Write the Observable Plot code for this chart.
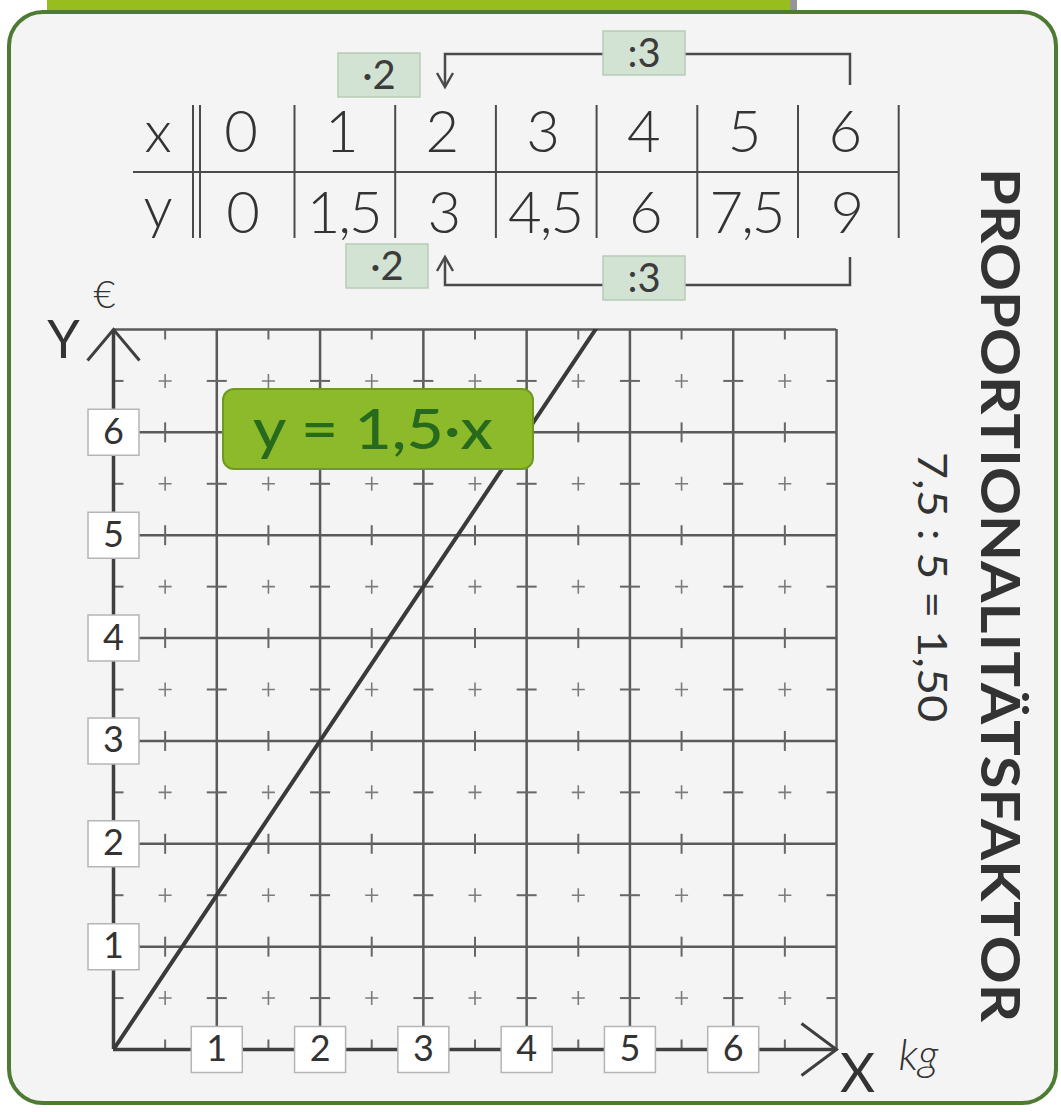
<!DOCTYPE html>
<html>
<head>
<meta charset="utf-8">
<script src="https://cdn.jsdelivr.net/npm/d3@7"></script>
<script src="https://cdn.jsdelivr.net/npm/@observablehq/plot@0.6"></script>
<style>
  body { margin: 0; background: #ffffff; }
  #chart svg { display: block; }
</style>
</head>
<body>
<div id="chart"></div>
<script>
// ---- data ----
const xValues = [0, 1, 2, 3, 4, 5, 6];
const yValues = [0, 1.5, 3, 4.5, 6, 7.5, 9];
const xValueLabels = ["0", "1", "2", "3", "4", "5", "6"];
const yValueLabels = ["0", "1,5", "3", "4,5", "6", "7,5", "9"];
const xTickValues = [1, 2, 3, 4, 5, 6];
const yTickValues = [1, 2, 3, 4, 5, 6];
const gridLines = [1, 2, 3, 4, 5, 6, 7];
const axisMax = 7;
const rowLabels = ["x", "y"];
const opMultiply = "·2";
const opDivide = ":3";
const equationText = "y = 1,5·x";
const factorTitle = "PROPORTIONALITÄTSFAKTOR";
const factorText = "7,5 : 5 = 1,50";
const xAxisName = "X", xUnit = "kg";
const yAxisName = "Y", yUnit = "€";

// ---- style ----
const FONT = "Lato, 'Open Sans', sans-serif";
const INK = "#333333";
const GRID = "#5a5a5a";

// half-step lattice for the "+" marks
const half = d3.range(0, axisMax + 0.001, 0.5);
const lattice = half.flatMap(x => half.map(y => ({x, y})));
const isInt = v => Number.isInteger(v);
const smallPlus = lattice.filter(d => !isInt(d.x) && !isInt(d.y));
const onVLines = lattice.filter(d => isInt(d.x) && d.x > 0 && d.x < axisMax && !isInt(d.y));
const onHLines = lattice.filter(d => isInt(d.y) && d.y > 0 && d.y < axisMax && !isInt(d.x));
const onLeft = lattice.filter(d => d.x === 0 && !isInt(d.y));
const onRight = lattice.filter(d => d.x === axisMax && !isInt(d.y));
const onBottom = lattice.filter(d => d.y === 0 && !isInt(d.x));
const onTop = lattice.filter(d => d.y === axisMax && !isInt(d.x));

const sym = f => ({draw(c) { f(c); }});
const symPlus = sym(c => { c.moveTo(-6.5, 0); c.lineTo(6.5, 0); c.moveTo(0, -7); c.lineTo(0, 7); });
const symH = sym(c => { c.moveTo(-10, 0); c.lineTo(10, 0); });
const symV = sym(c => { c.moveTo(0, -10); c.lineTo(0, 10); });
const symRight = sym(c => { c.moveTo(0, 0); c.lineTo(10, 0); });
const symLeft = sym(c => { c.moveTo(0, 0); c.lineTo(-10, 0); });
const symUp = sym(c => { c.moveTo(0, 0); c.lineTo(0, -10); });
const symDown = sym(c => { c.moveTo(0, 0); c.lineTo(0, 10); });
const symBox = sym(c => { c.rect(-25.5, -23, 51, 46); });
const symArrowUp = sym(c => { c.moveTo(-26, 31); c.lineTo(0, 0); c.lineTo(26, 31); });
const symArrowRight = sym(c => { c.moveTo(-35, -26); c.lineTo(0, 0); c.lineTo(-35, 26); });

const points = xValues.map((x, i) => ({x, y: yValues[i]}));

// background card (frame + tab)
function cardMark() {
  const g = d3.create("svg:g");
  g.append("rect").attr("x", 47).attr("y", -20).attr("width", 743).attr("height", 34)
    .attr("fill", "#97bd1e");
  g.append("rect").attr("x", 790).attr("y", -20).attr("width", 7).attr("height", 34)
    .attr("fill", "#6a6a6a").attr("opacity", 0.7);
  g.append("rect").attr("x", 9).attr("y", 12).attr("width", 1047).attr("height", 1091)
    .attr("rx", 34).attr("fill", "#f4f4f4").attr("stroke", "#4c7b31").attr("stroke-width", 4);
  return g.node();
}

// value table with its operator annotations
function tableMark() {
  const g = d3.create("svg:g").attr("font-family", FONT);
  const col = i => 241 + 100.7 * i;
  const sep = i => col(i) + 53.5;
  const line = (x1, y1, x2, y2, w = 2) => g.append("line")
    .attr("x1", x1).attr("y1", y1).attr("x2", x2).attr("y2", y2)
    .attr("stroke", "#4a4a4a").attr("stroke-width", w);
  // rules
  line(133, 172, sep(6), 172);
  line(193, 105, 193, 238); line(200, 105, 200, 238);
  xValues.forEach((_, i) => line(sep(i), 105, sep(i), 238));
  // row labels
  g.append("text").attr("x", 158).attr("y", 152).attr("text-anchor", "middle")
    .attr("font-size", 58).attr("font-weight", 300).attr("fill", INK).text(rowLabels[0]);
  g.append("text").attr("x", 158).attr("y", 228).attr("text-anchor", "middle")
    .attr("font-size", 58).attr("font-weight", 300).attr("fill", INK).text(rowLabels[1]);
  // values
  xValueLabels.forEach((t, i) => g.append("text").attr("x", col(i)).attr("y", 152)
    .attr("text-anchor", "middle").attr("font-size", 58).attr("font-weight", 300)
    .attr("fill", INK).text(t));
  yValueLabels.forEach((t, i) => g.append("text").attr("x", col(i) + 2).attr("y", 233)
    .attr("text-anchor", "middle").attr("font-size", 58).attr("font-weight", 300)
    .attr("fill", INK).attr("letter-spacing", t.length > 1 ? -2 : 0).text(t));
  // brackets
  const path = d => g.append("path").attr("d", d).attr("fill", "none")
    .attr("stroke", "#4a4a4a").attr("stroke-width", 2.5);
  path(`M850,85V54H445V86`);
  path(`M437,73L445,87L453,73`);
  path(`M850,257V285H445V258`);
  path(`M437,271L445,257L453,271`);
  // op boxes
  const opBox = (cx, cy, t) => {
    g.append("rect").attr("x", cx - 41).attr("y", cy - 22).attr("width", 82).attr("height", 44)
      .attr("fill", "#d3e3d3").attr("stroke", "#b7ccb7").attr("stroke-width", 1.5);
    g.append("text").attr("x", cx).attr("y", cy).attr("dy", "0.36em").attr("text-anchor", "middle")
      .attr("font-size", 40).attr("font-weight", 400).attr("fill", "#3c3c3c").text(t);
  };
  opBox(379, 75, opMultiply);
  opBox(644, 53, opDivide);
  opBox(387, 266, opMultiply);
  opBox(644, 278, opDivide);
  // right-side vertical texts
  g.append("text").attr("transform", "translate(1000,595) rotate(90)")
    .attr("text-anchor", "middle").attr("dy", "0.36em").attr("font-size", 54)
    .attr("font-weight", 700).attr("fill", INK)
    .attr("textLength", 854).attr("lengthAdjust", "spacingAndGlyphs").text(factorTitle);
  g.append("text").attr("transform", "translate(932,587) rotate(90)")
    .attr("text-anchor", "middle").attr("dy", "0.36em").attr("font-size", 40)
    .attr("font-weight", 400).attr("fill", INK)
    .attr("textLength", 270).attr("lengthAdjust", "spacingAndGlyphs").text(factorText);
  return g.node();
}

// equation badge
function equationMark() {
  const g = d3.create("svg:g").attr("font-family", FONT);
  g.append("rect").attr("x", 223).attr("y", 389).attr("width", 310).attr("height", 80)
    .attr("rx", 11).attr("fill", "#8dba2a").attr("stroke", "#6f9922").attr("stroke-width", 2);
  g.append("text").attr("x", 373).attr("y", 429).attr("dy", "0.36em").attr("text-anchor", "middle")
    .attr("font-size", 56).attr("font-weight", 500).attr("fill", "#276a1d")
    .attr("textLength", 240).attr("lengthAdjust", "spacingAndGlyphs").text(equationText);
  return g.node();
}

const chart = Plot.plot({
  width: 1061,
  height: 1112,
  marginLeft: 113,
  marginRight: 225,
  marginTop: 329,
  marginBottom: 63,
  x: {domain: [0, axisMax], axis: null},
  y: {domain: [0, axisMax], axis: null},
  style: {background: "#ffffff", fontFamily: FONT, overflow: "visible"},
  marks: [
    cardMark,
    // grid
    Plot.ruleX(gridLines, {y1: 0, y2: axisMax, stroke: GRID, strokeWidth: 2.5}),
    Plot.ruleY(gridLines, {x1: 0, x2: axisMax, stroke: GRID, strokeWidth: 2.5}),
    // lattice marks
    Plot.dot(smallPlus, {x: "x", y: "y", symbol: symPlus, fill: "none", stroke: "#7c7c7c", strokeWidth: 1.6}),
    Plot.dot(onVLines, {x: "x", y: "y", symbol: symH, fill: "none", stroke: "#666", strokeWidth: 2}),
    Plot.dot(onHLines, {x: "x", y: "y", symbol: symV, fill: "none", stroke: "#666", strokeWidth: 2}),
    Plot.dot(onLeft, {x: "x", y: "y", symbol: symRight, fill: "none", stroke: "#666", strokeWidth: 2}),
    Plot.dot(onRight, {x: "x", y: "y", symbol: symLeft, fill: "none", stroke: "#666", strokeWidth: 2}),
    Plot.dot(onBottom, {x: "x", y: "y", symbol: symUp, fill: "none", stroke: "#666", strokeWidth: 2}),
    Plot.dot(onTop, {x: "x", y: "y", symbol: symDown, fill: "none", stroke: "#666", strokeWidth: 2}),
    // axes
    Plot.ruleX([0], {y1: 0, y2: axisMax, stroke: "#3f3f3f", strokeWidth: 3.5}),
    Plot.ruleY([0], {x1: 0, x2: axisMax, stroke: "#3f3f3f", strokeWidth: 3.5}),
    Plot.dot([{x: 0, y: axisMax}], {x: "x", y: "y", symbol: symArrowUp, fill: "none", stroke: "#3f3f3f", strokeWidth: 3}),
    Plot.dot([{x: axisMax, y: 0}], {x: "x", y: "y", symbol: symArrowRight, fill: "none", stroke: "#3f3f3f", strokeWidth: 3}),
    // proportional line
    Plot.line(points, {x: "x", y: "y", stroke: "#3a3a3a", strokeWidth: 4, clip: true}),
    // tick label boxes
    Plot.dot(xTickValues, {x: d => d, y: 0, symbol: symBox, fill: "#ffffff", stroke: "#b5b5b5", strokeWidth: 1.5}),
    Plot.dot(yTickValues, {x: 0, y: d => d, symbol: symBox, fill: "#ffffff", stroke: "#b5b5b5", strokeWidth: 1.5}),
    Plot.text(xTickValues, {x: d => d, y: 0, text: d => String(d), fontSize: 36, fontWeight: 400, fill: INK}),
    Plot.text(yTickValues, {x: 0, y: d => d, text: d => String(d), fontSize: 36, fontWeight: 400, fill: INK}),
    // axis names
    Plot.text([yAxisName], {x: 0, y: axisMax, dx: -50, dy: 12, fontSize: 52, fontWeight: 400, fill: INK}),
    Plot.text([yUnit], {x: 0, y: axisMax, dx: -9, dy: -34, fontSize: 38, fontWeight: 300, fill: INK}),
    Plot.text([xAxisName], {x: axisMax, y: 0, dx: 21, dy: 25, fontSize: 54, fontWeight: 400, fill: INK}),
    Plot.text([xUnit], {x: axisMax, y: 0, dx: 82, dy: 6, fontSize: 44, fontWeight: 300, fontStyle: "italic", fill: INK}),
    equationMark,
    tableMark
  ]
});
document.getElementById("chart").append(chart);
</script>
</body>
</html>
